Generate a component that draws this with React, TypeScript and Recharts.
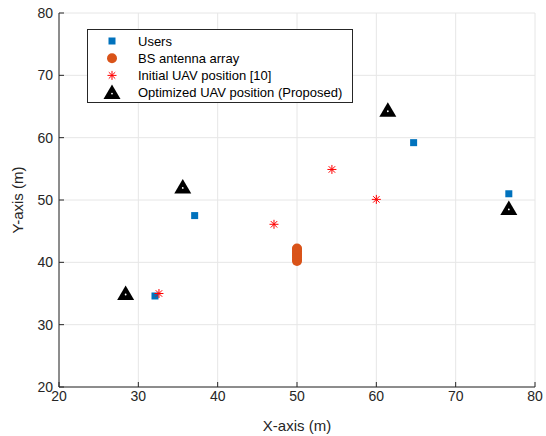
import React from 'react';
import { ScatterChart, Scatter, XAxis, YAxis, CartesianGrid, Legend, Label } from 'recharts';

const xTicks = [20, 30, 40, 50, 60, 70, 80];
const yTicks = [20, 30, 40, 50, 60, 70, 80];

const usersX = [32.1, 37.1, 64.7, 76.7];
const usersY = [34.6, 47.5, 59.2, 51.0];

const bsX = [50, 50, 50, 50, 50, 50, 50, 50];
const bsY = [40.2, 40.5, 40.8, 41.1, 41.4, 41.7, 42.0, 42.2];

const initX = [32.6, 47.1, 54.4, 60.0];
const initY = [35.0, 46.1, 54.9, 50.1];

const optX = [28.4, 35.6, 61.45, 76.7];
const optY = [35.0, 52.1, 64.4, 48.65];

const seriesNames = ['Users', 'BS antenna array', 'Initial UAV position [10]', 'Optimized UAV position (Proposed)'];

const zip = (xs: number[], ys: number[]) => xs.map((x, i) => ({ x, y: ys[i] }));
const usersData = zip(usersX, usersY);
const bsData = zip(bsX, bsY);
const initData = zip(initX, initY);
const optData = zip(optX, optY);

const FONT = '"Liberation Sans", Arial, Helvetica, sans-serif';
const AX = '#262626';

const SquareM = ({ cx, cy }: any) => (
  <rect x={cx - 3.5} y={cy - 3.5} width={7} height={7} fill="#0072BD" />
);
const CircleM = ({ cx, cy }: any) => <circle cx={cx} cy={cy} r={5} fill="#D95319" />;
const StarM = ({ cx, cy }: any) => {
  const r = 4.5;
  const d = r * 0.72;
  return (
    <g stroke="#FF0000" strokeWidth={1}>
      <line x1={cx - r} y1={cy} x2={cx + r} y2={cy} />
      <line x1={cx} y1={cy - r} x2={cx} y2={cy + r} />
      <line x1={cx - d} y1={cy - d} x2={cx + d} y2={cy + d} />
      <line x1={cx - d} y1={cy + d} x2={cx + d} y2={cy - d} />
    </g>
  );
};
const TriM = ({ cx, cy }: any) => (
  <g>
    <polygon points={`${cx},${cy - 8} ${cx - 8.5},${cy + 6.5} ${cx + 8.5},${cy + 6.5}`} fill="#000" />
    <circle cx={cx} cy={cy + 1} r={0.9} fill="#fff" />
  </g>
);

const markers = [SquareM, CircleM, StarM, TriM];

const LegendBox = () => (
  <svg width={266} height={74} style={{ display: 'block' }}>
    <rect x={0.5} y={0.5} width={265} height={73} fill="#fff" stroke={AX} strokeWidth={1} />
    {seriesNames.map((n, i) => {
      const M = markers[i];
      const cy = 12 + i * 17.2;
      return (
        <g key={n}>
          <M cx={25} cy={cy} />
          <text x={51} y={cy} dominantBaseline="central" fontSize={13} fontFamily={FONT} fill="#000">
            {n}
          </text>
        </g>
      );
    })}
  </svg>
);

export default function App() {
  return (
    <div style={{ position: 'absolute', left: 0, top: 0, width: 546, height: 436, background: '#fff' }}>
      <ScatterChart width={546} height={436} margin={{ top: 13, right: 11, left: 0, bottom: 0 }}>
        <CartesianGrid stroke="#e6e6e6" strokeWidth={1} />
        <XAxis
          type="number"
          dataKey="x"
          domain={[20, 80]}
          ticks={xTicks}
          allowDataOverflow
          height={49}
          stroke={AX}
          tickSize={-5}
          tickMargin={9}
          tick={{ fontSize: 14, fontFamily: FONT, fill: AX }}
        >
          <Label
            content={({ viewBox }: any) => (
              <text x={viewBox.x + viewBox.width / 2} y={viewBox.y + 44} textAnchor="middle" fontSize={15} fontFamily={FONT} fill={AX}>
                X-axis (m)
              </text>
            )}
          />
        </XAxis>
        <YAxis
          type="number"
          dataKey="y"
          domain={[20, 80]}
          ticks={yTicks}
          allowDataOverflow
          width={59}
          stroke={AX}
          tickSize={-5}
          tickMargin={11}
          tick={{ fontSize: 14, fontFamily: FONT, fill: AX }}
        >
          <Label
            content={({ viewBox }: any) => {
              const cx = 23;
              const cy = viewBox.y + viewBox.height / 2;
              return (
                <text x={cx} y={cy} transform={`rotate(-90 ${cx} ${cy})`} textAnchor="middle" fontSize={15} fontFamily={FONT} fill={AX}>
                  Y-axis (m)
                </text>
              );
            }}
          />
        </YAxis>
        <Legend
          layout="horizontal"
          verticalAlign="middle"
          align="center"
          wrapperStyle={{ position: 'absolute', left: 87, top: 29, width: 266, height: 74 }}
          content={() => <LegendBox />}
        />
        <Scatter name={seriesNames[0]} data={usersData} shape={SquareM} isAnimationActive={false} />
        <Scatter name={seriesNames[1]} data={bsData} shape={CircleM} isAnimationActive={false} />
        <Scatter name={seriesNames[2]} data={initData} shape={StarM} isAnimationActive={false} />
        <Scatter name={seriesNames[3]} data={optData} shape={TriM} isAnimationActive={false} />
      </ScatterChart>
    </div>
  );
}
